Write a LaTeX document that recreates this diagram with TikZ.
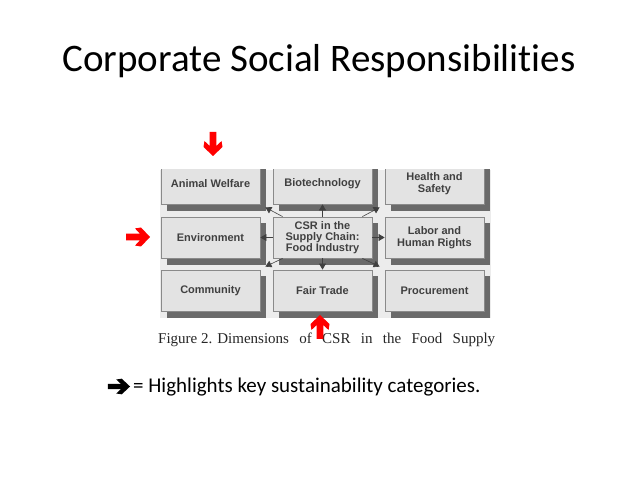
\documentclass[tikz,border=0pt]{standalone}
\usepackage{fontspec}
\setmainfont[Ligatures={NoCommon}]{Carlito}
\newfontfamily\boxfont{Liberation Sans}
\newfontfamily\capfont{Liberation Serif}
\usetikzlibrary{arrows.meta,calc}
\definecolor{panelbg}{HTML}{ECECEC}
\definecolor{boxfill}{HTML}{E3E3E3}
\definecolor{boxline}{HTML}{8A8A8A}
\definecolor{shadowc}{HTML}{6A6A6A}
\definecolor{boxtext}{HTML}{404040}
\definecolor{hired}{HTML}{FF0000}
\tikzset{
  dimbox/.style={draw=boxline, line width=0.8pt, fill=boxfill, minimum width=99pt, minimum height=41pt,
    inner sep=0pt, align=center, font=\boxfont\bfseries\fontsize{11}{12.5}\selectfont, text=boxtext},
  dimarrow/.style={draw=boxtext, line width=0.6pt, -{Triangle[length=6pt,width=7pt]}},
}
\newcommand\hiarrow[5]{% x, y, angle, colour, scaling
  \fill[#4, shift={(#1,#2)}, rotate=#3, #5]
    (-12,3.5) -- (2,3.5) -- (-3,9) -- (3,10) -- (12,0) -- (3,-10) -- (-3,-9) -- (2,-3.5) -- (-12,-3.5) -- cycle;}
\begin{document}
\begin{tikzpicture}[x=1pt,y=-1pt]
\useasboundingbox[fill=white] (0,0) rectangle (638,478);
% title
\node[font=\fontsize{39}{44}\selectfont, anchor=center] (title) at (319,61) {Corporate Social Responsibilit\kern0pt ies};
% figure panel
\begin{scope}
\clip (160,170) rectangle (491,318);
\fill[panelbg] (160,170) rectangle (491,318);
% shadows
\foreach \x/\y in {161/163, 273/163, 385/163, 161/217, 273/217, 385/217, 161/270, 273/270, 385/270}
  \fill[shadowc] (\x+6,\y+6) rectangle (\x+105,\y+48);
\node[dimbox] (aw) at (210.5,183.5) {Animal Welfare};
\node[dimbox] (bio) at (322.5,183.5) {Biotechnology};
\node[dimbox] (hs) at (434.5,183.5) {Health and\\Safety};
\node[dimbox] (env) at (210.5,237.5) {Environment};
\node[dimbox] (c) at (322.5,237.5) {CSR in the\\[-1.5pt]Supply Chain:\\[-1.5pt]Food Industry};
\node[dimbox] (lab) at (434.5,237.5) {Labor and\\Human Rights};
\node[dimbox] (com) at (210.5,290.5) {Community};
\node[dimbox] (fair) at (322.5,290.5) {Fair Trade};
\node[dimbox] (proc) at (434.5,290.5) {Procurement};
% connectors
\draw[dimarrow] (c.north) -- (bio.south);
\draw[dimarrow] (c.south) -- (fair.north);
\draw[dimarrow] (c.west) -- (env.east);
\draw[dimarrow] (c.east) -- (lab.west);
\draw[dimarrow] ($(c.north west)+(10,0)$) -- ($(aw.south east)+(5,3)$);
\draw[dimarrow] ($(c.north east)+(-10,0)$) -- ($(hs.south west)+(-5,3)$);
\draw[dimarrow] ($(c.south west)+(10,0)$) -- ($(com.north east)+(5,-3)$);
\draw[dimarrow] ($(c.south east)+(-10,0)$) -- ($(proc.north west)+(-5,-3)$);
\end{scope}
% caption
\node[anchor=base west, inner sep=0pt, text=black!85, font=\capfont\fontsize{15}{17}\selectfont] (cap) at (158,344)
  {\makebox[337pt][s]{\mbox{Figure 2. Dimensions} of CSR in the Food Supply}};
% highlight arrows
\hiarrow{213}{144}{-90}{hired}{xscale=1,yscale=0.95}
\hiarrow{138}{237}{0}{hired}{xscale=1,yscale=0.95}
\hiarrow{320}{327}{90}{hired}{xscale=1,yscale=0.95}
% legend
\hiarrow{119}{386.5}{0}{black}{xscale=0.92,yscale=0.78}
\node[anchor=west, font=\fontsize{21}{24}\selectfont, inner sep=0pt] (legend) at (133,387) {= Highlights key sustainability categories.};
\end{tikzpicture}
\end{document}
